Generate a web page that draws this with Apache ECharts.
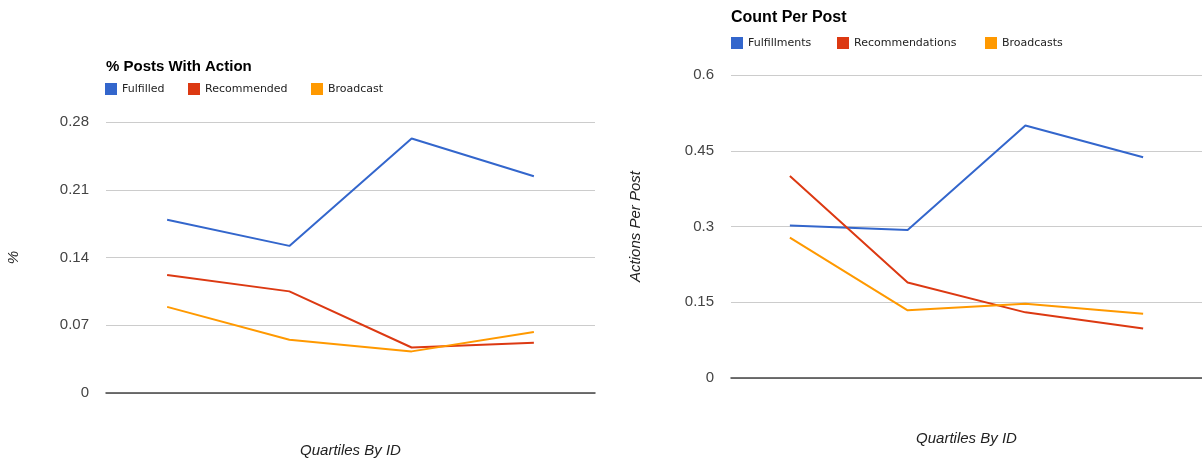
<!DOCTYPE html>
<html>
<head>
<meta charset="utf-8">
<script src="https://cdn.jsdelivr.net/npm/echarts@6/dist/echarts.min.js"></script>
<style>
html,body{margin:0;padding:0;background:#fff;}
#c{width:1202px;height:460px;}
</style>
</head>
<body>
<div id="c"></div>
<script>
var categories = ["Q1", "Q2", "Q3", "Q4"];

var leftTitle = "% Posts With Action";
var leftNames = ["Fulfilled", "Recommended", "Broadcast"];
var leftFulfilled = [0.179, 0.152, 0.263, 0.224];
var leftRecommended = [0.122, 0.105, 0.047, 0.052];
var leftBroadcast = [0.089, 0.055, 0.043, 0.063];
var leftTicks = [0, 0.07, 0.14, 0.21, 0.28];

var rightTitle = "Count Per Post";
var rightNames = ["Fulfillments", "Recommendations", "Broadcasts"];
var rightFulfillments = [0.302, 0.293, 0.500, 0.437];
var rightRecommendations = [0.400, 0.189, 0.130, 0.098];
var rightBroadcasts = [0.278, 0.134, 0.147, 0.127];
var rightTicks = [0, 0.15, 0.3, 0.45, 0.6];

var colors = ["#3366cc", "#dc3912", "#ff9900"];
var FONT = "'Liberation Sans', Arial, sans-serif";

var chart = echarts.init(document.getElementById('c'), null, {renderer: 'canvas'});

function legendItem(name, left, top) {
  return {
    data: [name], left: left, top: top, padding: 0,
    icon: 'rect', itemWidth: 12, itemHeight: 12, itemGap: 5,
    textStyle: {fontFamily: "'DejaVu Sans', sans-serif", fontSize: 11, color: '#222'}
  };
}

function yAxisDef(gridIndex, ticks, name, nameGap) {
  return {
    type: 'value', gridIndex: gridIndex,
    min: ticks[0], max: ticks[ticks.length - 1], interval: ticks[1] - ticks[0],
    name: name, nameLocation: 'middle', nameGap: nameGap, nameRotate: 90,
    nameTextStyle: {fontFamily: FONT, fontSize: 15, fontStyle: 'italic', color: '#222'},
    axisLine: {show: false}, axisTick: {show: false},
    axisLabel: {fontFamily: FONT, fontSize: 15, color: '#444', margin: 17,
      formatter: function (v) { return String(+v.toFixed(2)); }},
    splitLine: {lineStyle: {color: '#cccccc', width: 1}}
  };
}

function xAxisDef(gridIndex, nameGap) {
  return {
    type: 'category', gridIndex: gridIndex, data: categories, boundaryGap: true,
    name: 'Quartiles By ID', nameLocation: 'middle', nameGap: nameGap,
    nameTextStyle: {fontFamily: FONT, fontSize: 15, fontStyle: 'italic', color: '#222'},
    axisLine: {show: true, lineStyle: {color: '#444', width: 1.5}},
    axisTick: {show: false}, axisLabel: {show: false}
  };
}

function lineSeries(name, data, idx, axisIdx) {
  return {
    type: 'line', name: name, data: data, xAxisIndex: axisIdx, yAxisIndex: axisIdx,
    showSymbol: false, symbol: 'none', smooth: false,
    lineStyle: {width: 2, color: colors[idx]}, itemStyle: {color: colors[idx]},
    emphasis: {disabled: true}, animation: false
  };
}

chart.setOption({
  animation: false,
  color: colors,
  title: [
    {text: leftTitle, left: 106, top: 59, padding: 0,
     textStyle: {fontFamily: FONT, fontSize: 15, fontWeight: 'bold', color: '#000'}},
    {text: rightTitle, left: 731, top: 10, padding: 0,
     textStyle: {fontFamily: FONT, fontSize: 16, fontWeight: 'bold', color: '#000'}}
  ],
  legend: [
    legendItem(leftNames[0], 105, 83),
    legendItem(leftNames[1], 188, 83),
    legendItem(leftNames[2], 311, 83),
    legendItem(rightNames[0], 731, 37),
    legendItem(rightNames[1], 837, 37),
    legendItem(rightNames[2], 985, 37)
  ],
  grid: [
    {left: 106, width: 489, top: 122, height: 271, outerBoundsMode: 'none', containLabel: false},
    {left: 731, right: 0, top: 75, height: 303, outerBoundsMode: 'none', containLabel: false}
  ],
  xAxis: [xAxisDef(0, 50), xAxisDef(1, 53)],
  yAxis: [yAxisDef(0, leftTicks, '%', 85), yAxisDef(1, rightTicks, 'Actions Per Post', 88)],
  series: [
    lineSeries(leftNames[0], leftFulfilled, 0, 0),
    lineSeries(leftNames[1], leftRecommended, 1, 0),
    lineSeries(leftNames[2], leftBroadcast, 2, 0),
    lineSeries(rightNames[0], rightFulfillments, 0, 1),
    lineSeries(rightNames[1], rightRecommendations, 1, 1),
    lineSeries(rightNames[2], rightBroadcasts, 2, 1)
  ]
});
</script>
</body>
</html>
